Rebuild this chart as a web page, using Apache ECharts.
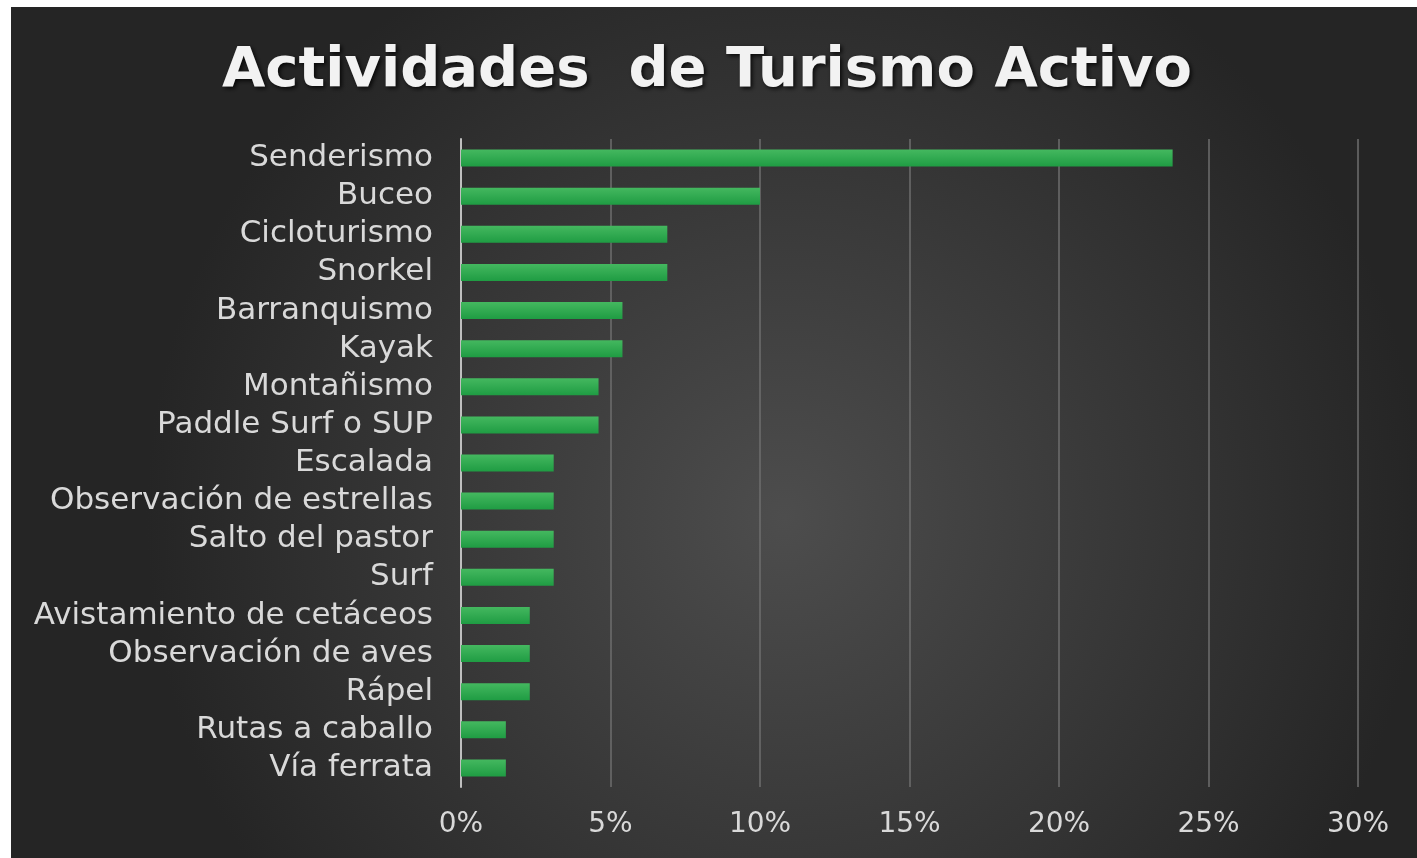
<!DOCTYPE html>
<html>
<head>
<meta charset="utf-8">
<title>Actividades de Turismo Activo</title>
<style>
  html, body { margin: 0; padding: 0; background: #ffffff; }
  #main { position: absolute; left: 11px; top: 7px; width: 1406px; height: 851px; }
</style>
</head>
<body>
<div id="main"></div>
<script src="https://cdn.jsdelivr.net/npm/echarts@6/dist/echarts.min.js"></script>
<script>
    // actividades, de arriba a abajo
    var actividades = ['Senderismo', 'Buceo', 'Cicloturismo', 'Snorkel', 'Barranquismo', 'Kayak',
        'Montañismo', 'Paddle Surf o SUP', 'Escalada', 'Observación de estrellas', 'Salto del pastor',
        'Surf', 'Avistamiento de cetáceos', 'Observación de aves', 'Rápel', 'Rutas a caballo', 'Vía ferrata'];
    // porcentaje de cada actividad
    var porcentajes = [23.8, 10.0, 6.9, 6.9, 5.4, 5.4, 4.6, 4.6, 3.1, 3.1, 3.1, 3.1, 2.3, 2.3, 2.3, 1.5, 1.5];
    var ticks = [0, 5, 10, 15, 20, 25, 30];

    var myChart = echarts.init(document.getElementById('main'));
    var option = {
        backgroundColor: {
            type: 'radial', x: 0.55, y: 0.6, r: 0.75,
            colorStops: [
                { offset: 0, color: '#4d4d4d' },
                { offset: 1, color: '#252525' }
            ]
        },
        title: {
            text: 'Actividades  de Turismo Activo',
            left: 206,
            top: 31,
            textStyle: {
                color: '#f2f2f2',
                fontFamily: 'DejaVu Sans',
                fontWeight: 'bold',
                fontSize: 56,
                textShadowColor: 'rgba(0,0,0,0.8)',
                textShadowBlur: 4,
                textShadowOffsetX: 2,
                textShadowOffsetY: 2
            }
        },
        grid: { left: 450, right: 59, top: 132, bottom: 71 },
        xAxis: {
            type: 'value',
            min: ticks[0],
            max: ticks[ticks.length - 1],
            interval: 5,
            axisLine: { show: false },
            axisTick: { show: false },
            axisLabel: {
                color: '#d9d9d9',
                fontFamily: 'DejaVu Sans',
                fontSize: 28,
                margin: 24,
                formatter: '{value}%'
            },
            splitLine: { lineStyle: { color: '#6e6e6e', width: 1.5 } }
        },
        yAxis: {
            type: 'category',
            data: actividades,
            inverse: true,
            axisLine: { show: true, lineStyle: { color: '#bfbfbf', width: 2 } },
            axisTick: { show: false },
            axisLabel: {
                interval: 0,
                color: '#d9d9d9',
                fontFamily: 'DejaVu Sans',
                fontSize: 31,
                margin: 28
            }
        },
        series: [{
            type: 'bar',
            data: porcentajes,
            barWidth: 17,
            itemStyle: {
                color: {
                    type: 'linear', x: 0, y: 0, x2: 0, y2: 1,
                    colorStops: [
                        { offset: 0, color: '#44b85f' },
                        { offset: 1, color: '#1f9c43' }
                    ]
                },
                shadowColor: 'rgba(0,0,0,0.6)',
                shadowBlur: 5,
                shadowOffsetY: 3
            }
        }]
    };
    myChart.setOption(option);
</script>
</body>
</html>
